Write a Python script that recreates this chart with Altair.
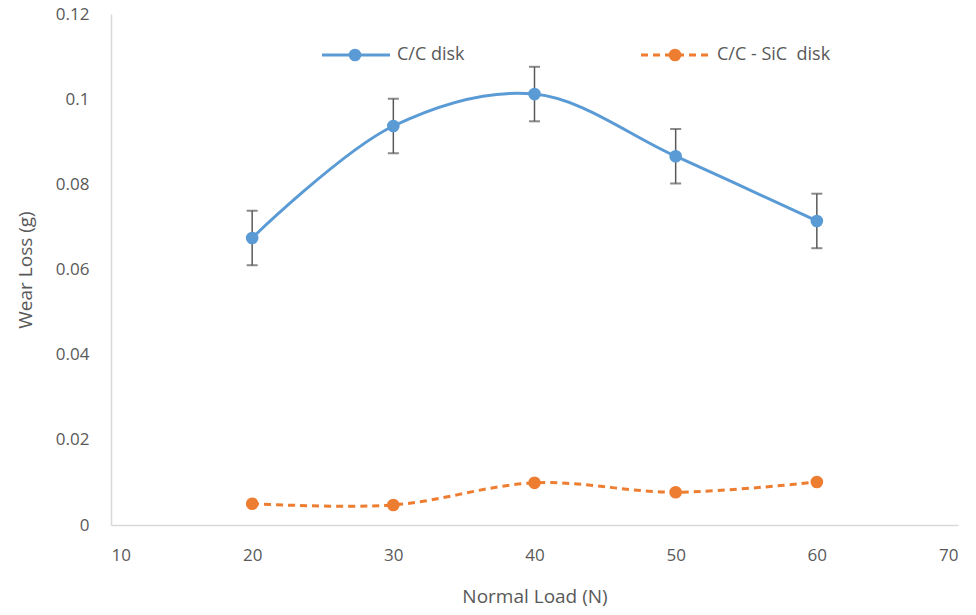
import altair as alt
import pandas as pd

loads = [20, 30, 40, 50, 60]
cc_wear = [0.0674, 0.0937, 0.1012, 0.0866, 0.0714]
cc_err = [0.0064, 0.0064, 0.0064, 0.0064, 0.0064]
sic_wear = [0.0050, 0.0047, 0.0099, 0.0077, 0.0101]
series_names = ["C/C disk", "C/C - SiC\u00a0 disk"]
x_ticks = [10, 20, 30, 40, 50, 60, 70]
y_ticks = [0, 0.02, 0.04, 0.06, 0.08, 0.1, 0.12]

BLUE = "#5B9BD5"
ORANGE = "#ED7D31"
GRAY = "#595959"
FONT = "Open Sans"

cc = pd.DataFrame({"load": loads, "wear": cc_wear,
                   "lo": [w - e for w, e in zip(cc_wear, cc_err)],
                   "hi": [w + e for w, e in zip(cc_wear, cc_err)]})
sic = pd.DataFrame({"load": loads, "wear": sic_wear})

axis_style = dict(grid=False, ticks=False, domainColor="#D9D9D9", domainWidth=1.5,
                  labelFont=FONT, titleFont=FONT, labelFontSize=17, titleFontSize=19,
                  labelColor=GRAY, titleColor=GRAY, titleFontWeight="normal")

xs = alt.X("load:Q", scale=alt.Scale(domain=[10, 70], nice=False),
           axis=alt.Axis(values=x_ticks, title="Normal Load (N)",
                         labelPadding=22, titlePadding=24, format="d", **axis_style))
ys = alt.Y("wear:Q", scale=alt.Scale(domain=[0, 0.12], nice=False),
           axis=alt.Axis(values=y_ticks, title="Wear Loss (g)",
                         labelPadding=22, titlePadding=20,
                         labelExpr="datum.value == 0 ? '0' : format(datum.value, '.2~f')",
                         **axis_style))

base_cc = alt.Chart(cc)
base_sic = alt.Chart(sic)

cc_line = base_cc.mark_line(color=BLUE, strokeWidth=3, interpolate="catmull-rom").encode(x=xs, y=ys)
cc_rule = base_cc.mark_rule(color=GRAY, strokeWidth=1.5).encode(x="load:Q", y="lo:Q", y2="hi:Q")
cc_cap_hi = base_cc.mark_tick(color=GRAY, orient="horizontal", size=11, thickness=2).encode(x="load:Q", y="hi:Q")
cc_cap_lo = base_cc.mark_tick(color=GRAY, orient="horizontal", size=11, thickness=2).encode(x="load:Q", y="lo:Q")
cc_pts = base_cc.mark_circle(color=BLUE, size=160, opacity=1).encode(x="load:Q", y="wear:Q")

sic_line = base_sic.mark_line(color=ORANGE, strokeWidth=3, strokeDash=[7, 5],
                              interpolate="catmull-rom").encode(x="load:Q", y="wear:Q")
sic_pts = base_sic.mark_circle(color=ORANGE, size=160, opacity=1).encode(x="load:Q", y="wear:Q")

# manual legend
leg = pd.DataFrame({"name": series_names})
leg1 = alt.Chart(leg.iloc[[0]])
leg2 = alt.Chart(leg.iloc[[1]])
l1_line = leg1.mark_rule(color=BLUE, strokeWidth=3).encode(x=alt.value(211), x2=alt.value(279), y=alt.value(41))
l1_pt = leg1.mark_circle(color=BLUE, size=160, opacity=1).encode(x=alt.value(244), y=alt.value(41))
l1_txt = leg1.mark_text(align="left", baseline="middle", font=FONT, fontSize=18, color=GRAY).encode(
    x=alt.value(286), y=alt.value(41), text="name:N")
l2_line = leg2.mark_rule(color=ORANGE, strokeWidth=3, strokeDash=[7, 5]).encode(x=alt.value(530), x2=alt.value(601), y=alt.value(41))
l2_pt = leg2.mark_circle(color=ORANGE, size=160, opacity=1).encode(x=alt.value(564), y=alt.value(41))
l2_txt = leg2.mark_text(align="left", baseline="middle", font=FONT, fontSize=18, color=GRAY).encode(
    x=alt.value(606), y=alt.value(41), text="name:N")

chart = alt.layer(cc_line, sic_line, cc_rule, cc_cap_hi, cc_cap_lo, cc_pts, sic_pts,
                  l1_line, l1_pt, l1_txt, l2_line, l2_pt, l2_txt).properties(
    width=847, height=511,
    background="white",
    autosize=alt.AutoSizeParams(type="none"),
    padding={"left": 111, "top": 14, "right": 18, "bottom": 90},
).configure_view(stroke=None)

chart.save("out.html", embed_options={"renderer": "svg", "actions": False})
